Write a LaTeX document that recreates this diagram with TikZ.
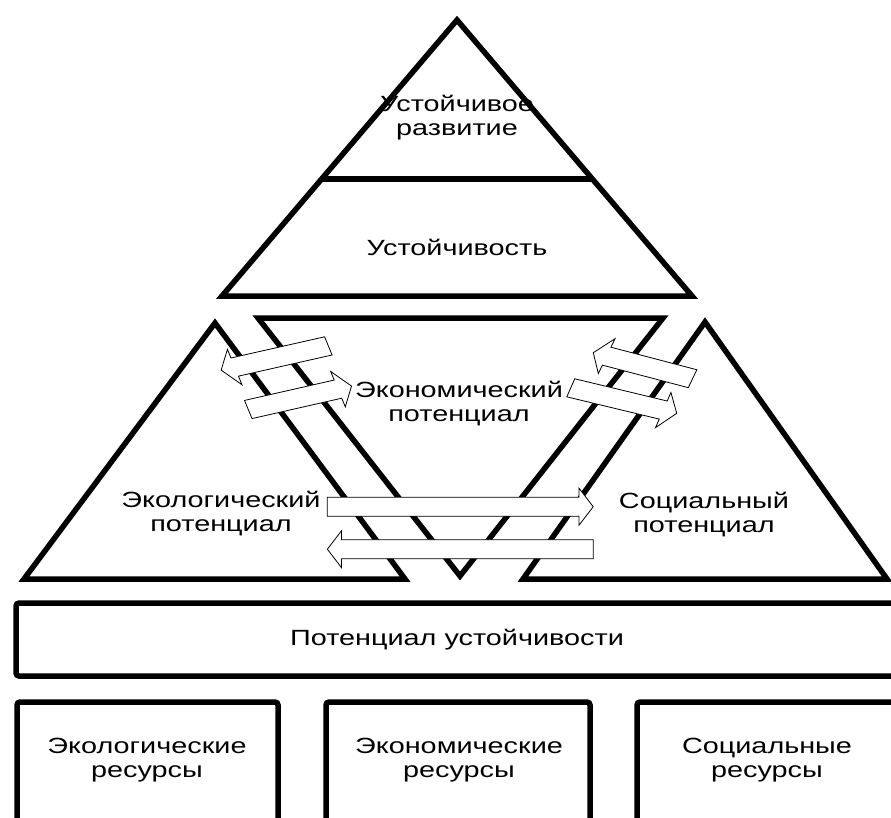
\documentclass[tikz,border=0pt]{standalone}
\usepackage{fontspec}
\setmainfont[FakeStretch=1.31]{Liberation Sans}
\newcommand{\blockarr}[4]{%
  \begin{scope}[xscale=1.35]
    \begin{scope}[shift={(#1,#2)},rotate=#3]
      \draw[blockarrow] (0,9.5) -- ({#4-10.5},9.5) -- ({#4-10.5},18.5) -- (#4,0)
        -- ({#4-10.5},-18.5) -- ({#4-10.5},-9.5) -- (0,-9.5) -- cycle;
    \end{scope}
  \end{scope}}
\begin{document}
\begin{tikzpicture}[x=1pt,y=-1pt,
  heavy/.style={line width=5.5pt, line join=miter},
  box/.style={line width=5.5pt, rounded corners=3pt},
  blockarrow/.style={draw=black, fill=white, line width=0.8pt, line join=miter},
  lbl/.style={align=center, font=\fontsize{22}{24}\selectfont, inner sep=0pt}]
\useasboundingbox (0,0) rectangle (891,817);
\clip (0,0) rectangle (891,817);

% top triangle
\draw[heavy] (457,20) -- (692,296) -- (222,296) -- cycle;
\draw[line width=5.5pt] (321.6,179) -- (592.4,179);

% three middle triangles
\draw[heavy] (215,323) -- (405,579) -- (24,579) -- cycle;
\draw[heavy] (258,318) -- (663,318) -- (460,576) -- cycle;
\draw[heavy] (705,322) -- (887,579) -- (523,579) -- cycle;

% boxes
\draw[box] (16,603) rectangle (905,676);
\draw[box] (17,702) rectangle (278,840);
\draw[box] (326,702) rectangle (590,840);
\draw[box] (637,702) rectangle (905,840);

% block arrows
\blockarr{243.2}{345.9}{196.96}{83}
\blockarr{183.9}{409.5}{17.05}{80}
\blockarr{513}{378.7}{160.5}{78}
\blockarr{422.8}{387.8}{-18}{82.5}
\blockarr{242.4}{506.7}{0}{197}
\blockarr{439.5}{549.2}{180}{197}

% labels
\node[lbl] (ustrazv) at (457,118) {Устойчивое\\развитие};
\node[lbl] (ust) at (457,247) {Устойчивость};
\node[lbl] (econ) at (459,404) {Экономический\\потенциал};
\node[lbl] (ecol) at (221,514) {Экологический\\потенциал};
\node[lbl] (soc) at (704,515) {Социальный\\потенциал};
\node[lbl] (pot) at (457,640) {Потенциал устойчивости};
\node[lbl] (r1) at (147,760) {Экологические\\ресурсы};
\node[lbl] (r2) at (459,760) {Экономические\\ресурсы};
\node[lbl] (r3) at (767,760) {Социальные\\ресурсы};
\end{tikzpicture}
\end{document}
